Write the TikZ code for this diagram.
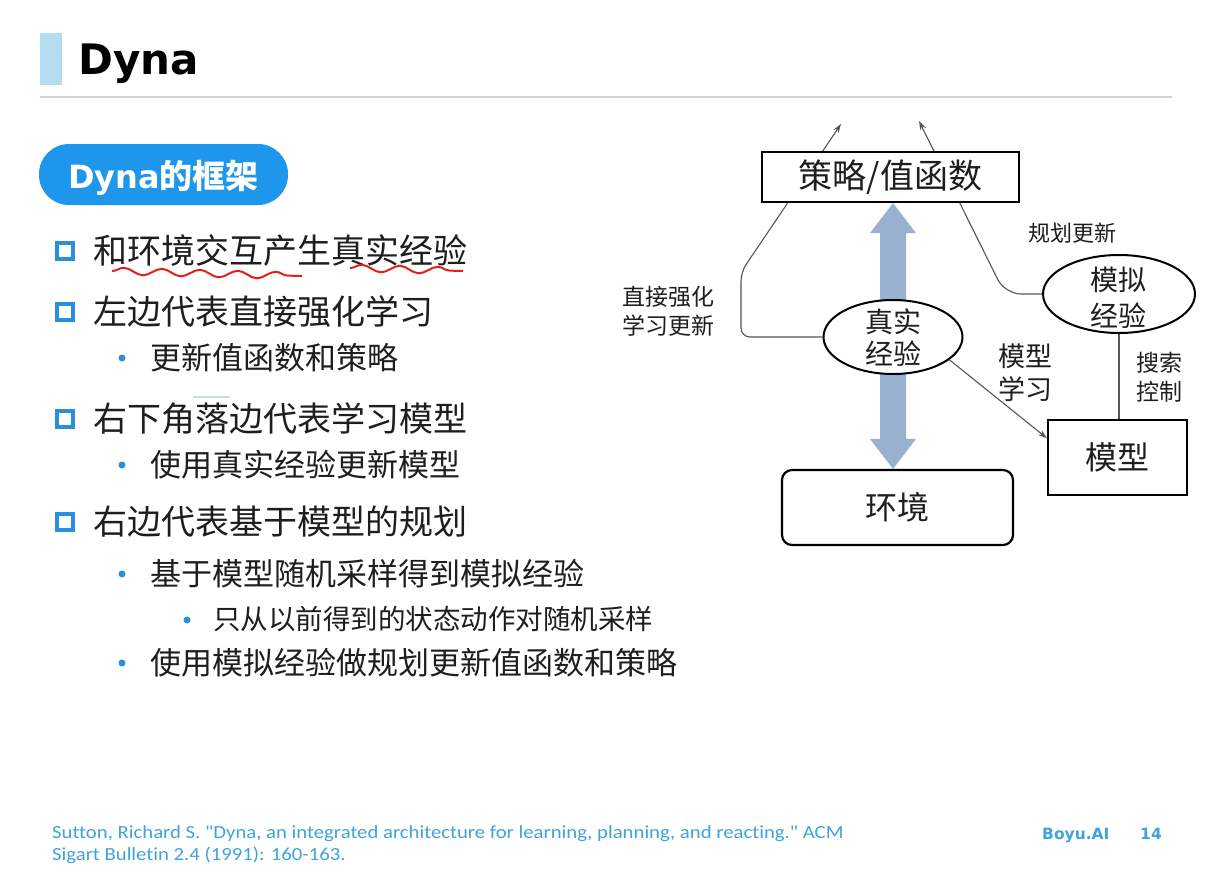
\documentclass[tikz,border=0pt]{standalone}
\usepackage{fontspec}
\setmainfont{Noto Sans CJK SC}
\newfontfamily\latinb{DejaVu Sans}
\newfontfamily\carl{Carlito}[FakeStretch=1.12, Ligatures={NoCommon}]
\usetikzlibrary{shapes.geometric,arrows.meta,calc,decorations.pathmorphing}
\pgfdeclarelayer{base}\pgfdeclarelayer{back}
\pgfsetlayers{base,back,main}
\definecolor{pillblue}{HTML}{1E96EB}
\definecolor{barblue}{HTML}{B5DDF1}
\definecolor{bulletblue}{HTML}{2A8FDF}
\definecolor{footblue}{HTML}{41A3DA}
\definecolor{arrowblue}{HTML}{98B1CE}
\definecolor{txt}{HTML}{1E1E1E}
\definecolor{conngray}{HTML}{555555}
\definecolor{rulegray}{HTML}{D2D2D2}
\definecolor{wavered}{HTML}{E0201A}
\definecolor{faint}{HTML}{C5DDF0}
\newcommand\fsz[2]{\fontsize{#1}{#2}\selectfont}
\begin{document}
\begin{tikzpicture}[x=1pt,y=-1pt,
  mainitem/.style={anchor=base west, inner sep=0, font=\fsz{34}{40}, text=txt},
  subitem/.style={anchor=base west, inner sep=0, font=\fsz{31}{36}, text=txt},
  subsubitem/.style={anchor=base west, inner sep=0, font=\fsz{27.5}{32}, text=txt},
  sqbullet/.style={draw=bulletblue, line width=3.2pt, minimum size=16pt, inner sep=0},
  dotbullet/.style={circle, fill=bulletblue, minimum size=7pt, inner sep=0},
  boxnode/.style={draw=black, line width=2.2pt, fill=white, inner sep=0, text=txt},
  ellip/.style={ellipse, draw=black, line width=2pt, fill=white, inner sep=0},
  lbl/.style={text=txt, inner sep=0, align=center},
  conn/.style={draw=conngray, line width=1.1pt},
  tipped/.style={-{Stealth[length=9pt,width=6pt]}},
  wave/.style={draw=wavered, line width=2pt, decorate, decoration={snake, segment length=38pt, amplitude=3.5pt}},
  foot/.style={anchor=base west, inner sep=0, font=\carl\fsz{18.5}{22}, text=footblue}
]
\begin{pgfonlayer}{base}
\fill[white] (0,0) rectangle (1229,873);
\end{pgfonlayer}
\useasboundingbox (0,0) rectangle (1229,873);

% title
\fill[barblue] (40,33) rectangle (62,85);
\node[anchor=base west, inner sep=0, font=\latinb\bfseries\fsz{42}{48}] (title) at (78,74) {Dyna};
\draw[rulegray, line width=2pt] (40,97) -- (1172,97);

% pill
\fill[pillblue, rounded corners=30pt] (39,144) rectangle (288,205);
\node[anchor=base west, inner sep=0, text=white] (pill) at (68,188) {{\latinb\bfseries\fsz{32}{36}Dyna}{\bfseries\fsz{33}{36}的框架}};

% bullet list
\node[sqbullet] (b1) at (65,251) {};
\node[mainitem] (t1) at (93,263) {和环境交互产生真实经验};
\node[sqbullet] (b2) at (65,312) {};
\node[mainitem] (t2) at (93,324) {左边代表直接强化学习};
\node[dotbullet] (d1) at (122,358) {};
\node[subitem] (s1) at (150,369) {更新值函数和策略};
\node[sqbullet] (b3) at (65,419) {};
\node[mainitem] (t3) at (93,431) {右下角落边代表学习模型};
\node[dotbullet] (d2) at (122,465) {};
\node[subitem] (s2) at (150,476) {使用真实经验更新模型};
\node[sqbullet] (b4) at (65,522) {};
\node[mainitem] (t4) at (93,534) {右边代表基于模型的规划};
\node[dotbullet] (d3) at (122,574) {};
\node[subitem] (s3) at (150,585) {基于模型随机采样得到模拟经验};
\node[dotbullet] (d4) at (187,620) {};
\node[subsubitem] (s4) at (213,629.5) {只从以前得到的状态动作对随机采样};
\node[dotbullet] (d5) at (122,663) {};
\node[subitem] (s5) at (150,674) {使用模拟经验做规划更新值函数和策略};

% hand-drawn marks
\draw[wave] (112,271) -- (302,276);
\draw[wave] (350,268) -- (463,271);
\draw[faint, line width=2pt] (193,397) -- (230,397);

% diagram nodes
\node[boxnode, minimum width=257pt, minimum height=50pt, font=\fsz{34}{38}] (policy) at (890.5,177) {策略/值函数};
\node[boxnode, rounded corners=10pt, minimum width=231pt, minimum height=75pt, font=\fsz{32}{38}] (env) at (897.5,507.5) {环境};
\node[boxnode, minimum width=139pt, minimum height=75pt, font=\fsz{32}{38}] (model) at (1117.5,457.5) {模型};
\node[ellip, minimum width=139pt, minimum height=74pt] (re) at (893,337) {};
\node[lbl, font=\fsz{28}{32}] (retxt) at (893,338) {真实\\经验};
\node[ellip, minimum width=152pt, minimum height=78pt] (se) at (1119,294) {};
\node[lbl, font=\fsz{28}{36}] (setxt) at (1118,298) {模拟\\经验};

% labels
\node[lbl, font=\fsz{22}{28}] (plan) at (1072,233) {规划更新};
\node[lbl, font=\fsz{23}{29}] (direct) at (668,311) {直接强化\\学习更新};
\node[lbl, font=\fsz{27}{33}, align=left] (ml) at (1025,373) {模型\\学习};
\node[lbl, font=\fsz{23}{29}] (sc) at (1159,377) {搜索\\控制};

\coordinate (tipL) at (841,124);
\coordinate (tipR) at (919,121);

\begin{pgfonlayer}{back}
\fill[arrowblue] (re |- policy.south) -- ++(23,30) -- ++(-10,0)
  -- ($(re |- env.north)+(13,-30)$) -- ++(10,0) -- (re |- env.north)
  -- ++(-23,-30) -- ++(10,0) -- ($(re |- policy.south)+(-13,30)$) -- ++(-10,0) -- cycle;
\draw[conn, tipped, rounded corners=9pt] (re.west) -- (741,337) -- (741,272) -- (tipL);
\draw[conn, tipped, rounded corners=16pt] (se.west) -- (1005,294) -- (tipR);
\end{pgfonlayer}

\draw[conn, tipped] (re.-22) -- ($(model.north west)!0.25!(model.south west)$);
\draw[conn] (se.south) -- (se.south |- model.north);

% footer
\node[foot] (cite1) at (52,838) {Sutton, Richard S. "Dyna, an integrated architecture for learning, planning, and reacting." ACM};
\node[foot] (cite2) at (52,860) {Sigart Bulletin 2.4 (1991): 160-163.};
\node[anchor=base west, inner sep=0, font=\latinb\bfseries\fsz{15.5}{18}, text=footblue] (brand) at (1042,839) {Boyu.AI};
\node[anchor=base west, inner sep=0, font=\latinb\bfseries\fsz{15.5}{18}, text=footblue] (page) at (1140,839) {14};
\end{tikzpicture}
\end{document}
